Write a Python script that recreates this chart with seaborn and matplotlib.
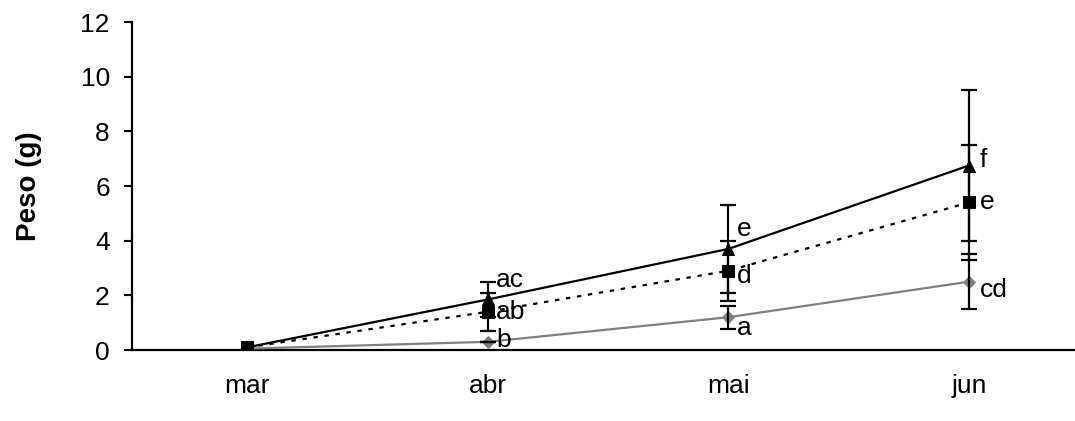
import matplotlib
matplotlib.use("Agg")
import matplotlib.pyplot as plt
import seaborn as sns
import pandas as pd

months = ["mar", "abr", "mai", "jun"]
tri_vals = [0.1, 1.85, 3.7, 6.75]
tri_err = [0.0, 0.65, 1.6, 2.75]
sq_vals = [0.1, 1.4, 2.9, 5.4]
sq_err = [0.0, 0.7, 1.1, 2.1]
gr_vals = [0.05, 0.3, 1.2, 2.5]
gr_err = [0.0, 0.0, 0.42, 1.0]
tri_labels = ["", "ac", "e", "f"]
sq_labels = ["", "ab", "d", "e"]
gr_labels = ["", "b", "a", "cd"]

sns.set_theme(style="white")
plt.rcParams['font.family'] = ['Liberation Sans', 'DejaVu Sans']
plt.rcParams['text.color'] = 'black'
plt.rcParams['axes.labelcolor'] = 'black'
plt.rcParams['xtick.color'] = 'black'
plt.rcParams['ytick.color'] = 'black'

fig = plt.figure(figsize=(10.75, 4.21), dpi=100)
ax = fig.add_axes([0.1228, 0.1686, 0.877, 0.7791])

xpos = list(range(len(months)))
series = [
    ("gr", gr_vals, gr_err, gr_labels, "#808080", "-", "D", 6),
    ("sq", sq_vals, sq_err, sq_labels, "black", (0, (2, 3)), "s", 8),
    ("tri", tri_vals, tri_err, tri_labels, "black", "-", "^", 9),
]
label_offsets = {
    "tri": [(0, 0), (6, 14), (6, 14), (8, 4)],
    "sq": [(0, 0), (6, 0), (6, -4), (8, 0)],
    "gr": [(0, 0), (6, 1), (6, -8), (8, -6)],
}
for name, vals, err, labs, col, ls, mk, ms in series:
    df = pd.DataFrame({"x": xpos, "y": vals})
    sns.lineplot(data=df, x="x", y="y", ax=ax, color=col, linestyle=ls,
                 linewidth=1.6, marker=mk, markersize=ms, markeredgecolor=col,
                 markerfacecolor=col, zorder=3)
    ax.errorbar(xpos[1:], vals[1:], yerr=err[1:], fmt="none", ecolor="black",
                elinewidth=1.6, capsize=6, capthick=1.6, zorder=4)
    for xi, v, t, off in zip(xpos, vals, labs, label_offsets[name]):
        if t:
            ax.annotate(t, (xi, v), xytext=off, textcoords="offset points",
                        ha="left", va="center", fontsize=19, color="black")

ax.set_xlim(-0.48, 3.44)
ax.set_ylim(0, 12)
ax.set_yticks(range(0, 13, 2))
ax.set_xticks(xpos)
ax.set_xticklabels(months)
ax.tick_params(axis="y", direction="out", length=6, width=1.5, color="black",
               left=True, labelsize=19, pad=10, labelcolor="black")
ax.tick_params(axis="x", length=0, labelsize=19, pad=17, labelcolor="black")
ax.set_xlabel("")
ax.set_ylabel("Peso (g)", fontsize=20, fontweight="bold", labelpad=28,
              color="black")
for s in ["top", "right"]:
    ax.spines[s].set_visible(False)
for s in ["left", "bottom"]:
    ax.spines[s].set_color("black")
    ax.spines[s].set_linewidth(1.6)
ax.grid(False)

fig.savefig("out.png", dpi=100)
